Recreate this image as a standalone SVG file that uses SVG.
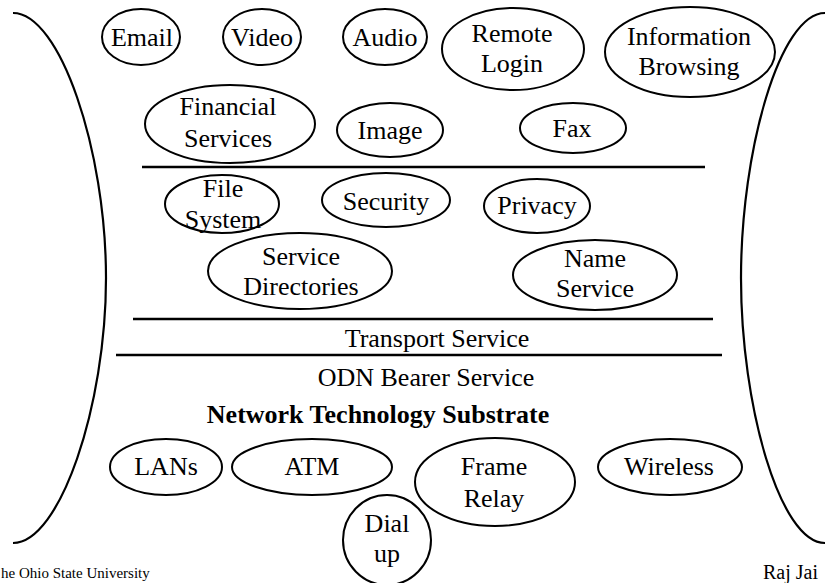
<svg xmlns="http://www.w3.org/2000/svg" width="825" height="583" viewBox="0 0 825 583" font-family="'Liberation Serif', 'Times New Roman', 'DejaVu Serif', serif">
<style>
.n{fill:none;stroke:#000;stroke-width:2}
.t{font-family:'Liberation Serif','Times New Roman','DejaVu Serif',serif;font-size:26px;fill:#000;text-anchor:middle}
.b{font-weight:bold}
.ln{stroke:#000;stroke-width:2.5;fill:none}
.br{fill:none;stroke:#000;stroke-width:2.2}
.f{font-family:'Liberation Serif','Times New Roman','DejaVu Serif',serif;fill:#000}
</style>
<rect width="825" height="583" fill="#fff"/>
<g id="brackets">
<path class="br" d="M13,13 C60,13 106,150 106,278 C106,406 60,543 13,543"/>
<path class="br" d="M825,13 C780,13 741,150 741,278 C741,406 780,543 825,543"/>
</g>
<g id="connectors">
<line class="ln" x1="142" y1="167" x2="705" y2="167"/>
<line class="ln" x1="133" y1="319" x2="713" y2="319"/>
<line class="ln" x1="116" y1="355" x2="722" y2="355"/>
</g>
<g id="email"><ellipse class="n" cx="141" cy="37" rx="39" ry="28"/><text class="t" x="142" y="46">Email</text></g>
<g id="video"><ellipse class="n" cx="262" cy="37" rx="39" ry="28"/><text class="t" x="262" y="46">Video</text></g>
<g id="audio"><ellipse class="n" cx="385" cy="37" rx="42" ry="28"/><text class="t" x="385" y="46">Audio</text></g>
<g id="remote-login"><ellipse class="n" cx="513" cy="49" rx="71" ry="41"/><text class="t" x="512" y="42">Remote</text><text class="t" x="512" y="72">Login</text></g>
<g id="information-browsing"><ellipse class="n" cx="690" cy="52" rx="85" ry="45"/><text class="t" x="689" y="45">Information</text><text class="t" x="689" y="75">Browsing</text></g>
<g id="financial-services"><ellipse class="n" cx="230" cy="124" rx="85" ry="39"/><text class="t" x="228" y="115">Financial</text><text class="t" x="228" y="147">Services</text></g>
<g id="image"><ellipse class="n" cx="390" cy="130" rx="53" ry="27"/><text class="t" x="390" y="139">Image</text></g>
<g id="fax"><ellipse class="n" cx="573" cy="128" rx="53" ry="25"/><text class="t" x="572" y="137">Fax</text></g>
<g id="file-system"><ellipse class="n" cx="222" cy="204" rx="57" ry="29"/><text class="t" x="223" y="197">File</text><text class="t" x="223" y="228">System</text></g>
<g id="security"><ellipse class="n" cx="386" cy="200" rx="64" ry="27"/><text class="t" x="386" y="210">Security</text></g>
<g id="privacy"><ellipse class="n" cx="537" cy="206" rx="53" ry="27"/><text class="t" x="537" y="214">Privacy</text></g>
<g id="service-directories"><ellipse class="n" cx="300" cy="271" rx="92" ry="38"/><text class="t" x="301" y="265">Service</text><text class="t" x="301" y="295">Directories</text></g>
<g id="name-service"><ellipse class="n" cx="595" cy="275" rx="82" ry="35"/><text class="t" x="595" y="267">Name</text><text class="t" x="595" y="297">Service</text></g>
<g id="transport-service"><text class="t" x="437" y="347">Transport Service</text></g>
<g id="odn-bearer-service"><text class="t" x="426" y="386">ODN Bearer Service</text></g>
<g id="network-technology-substrate"><text class="t b" x="378" y="423">Network Technology Substrate</text></g>
<g id="lans"><ellipse class="n" cx="166" cy="467" rx="56" ry="28"/><text class="t" x="166" y="475">LANs</text></g>
<g id="atm"><ellipse class="n" cx="312" cy="467" rx="80" ry="28"/><text class="t" x="312" y="475">ATM</text></g>
<g id="frame-relay"><ellipse class="n" cx="495" cy="482" rx="80" ry="44"/><text class="t" x="494" y="475">Frame</text><text class="t" x="494" y="507">Relay</text></g>
<g id="wireless"><ellipse class="n" cx="670" cy="467" rx="72" ry="28"/><text class="t" x="669" y="475">Wireless</text></g>
<g id="dial-up"><ellipse class="n" cx="387" cy="540" rx="44" ry="45"/><text class="t" x="387" y="532">Dial</text><text class="t" x="387" y="562">up</text></g>
<g id="footer">
<text class="f" x="1" y="578" font-size="15">he Ohio State University</text>
<text class="f" x="763" y="579" font-size="20">Raj Jai</text>
</g>
</svg>
